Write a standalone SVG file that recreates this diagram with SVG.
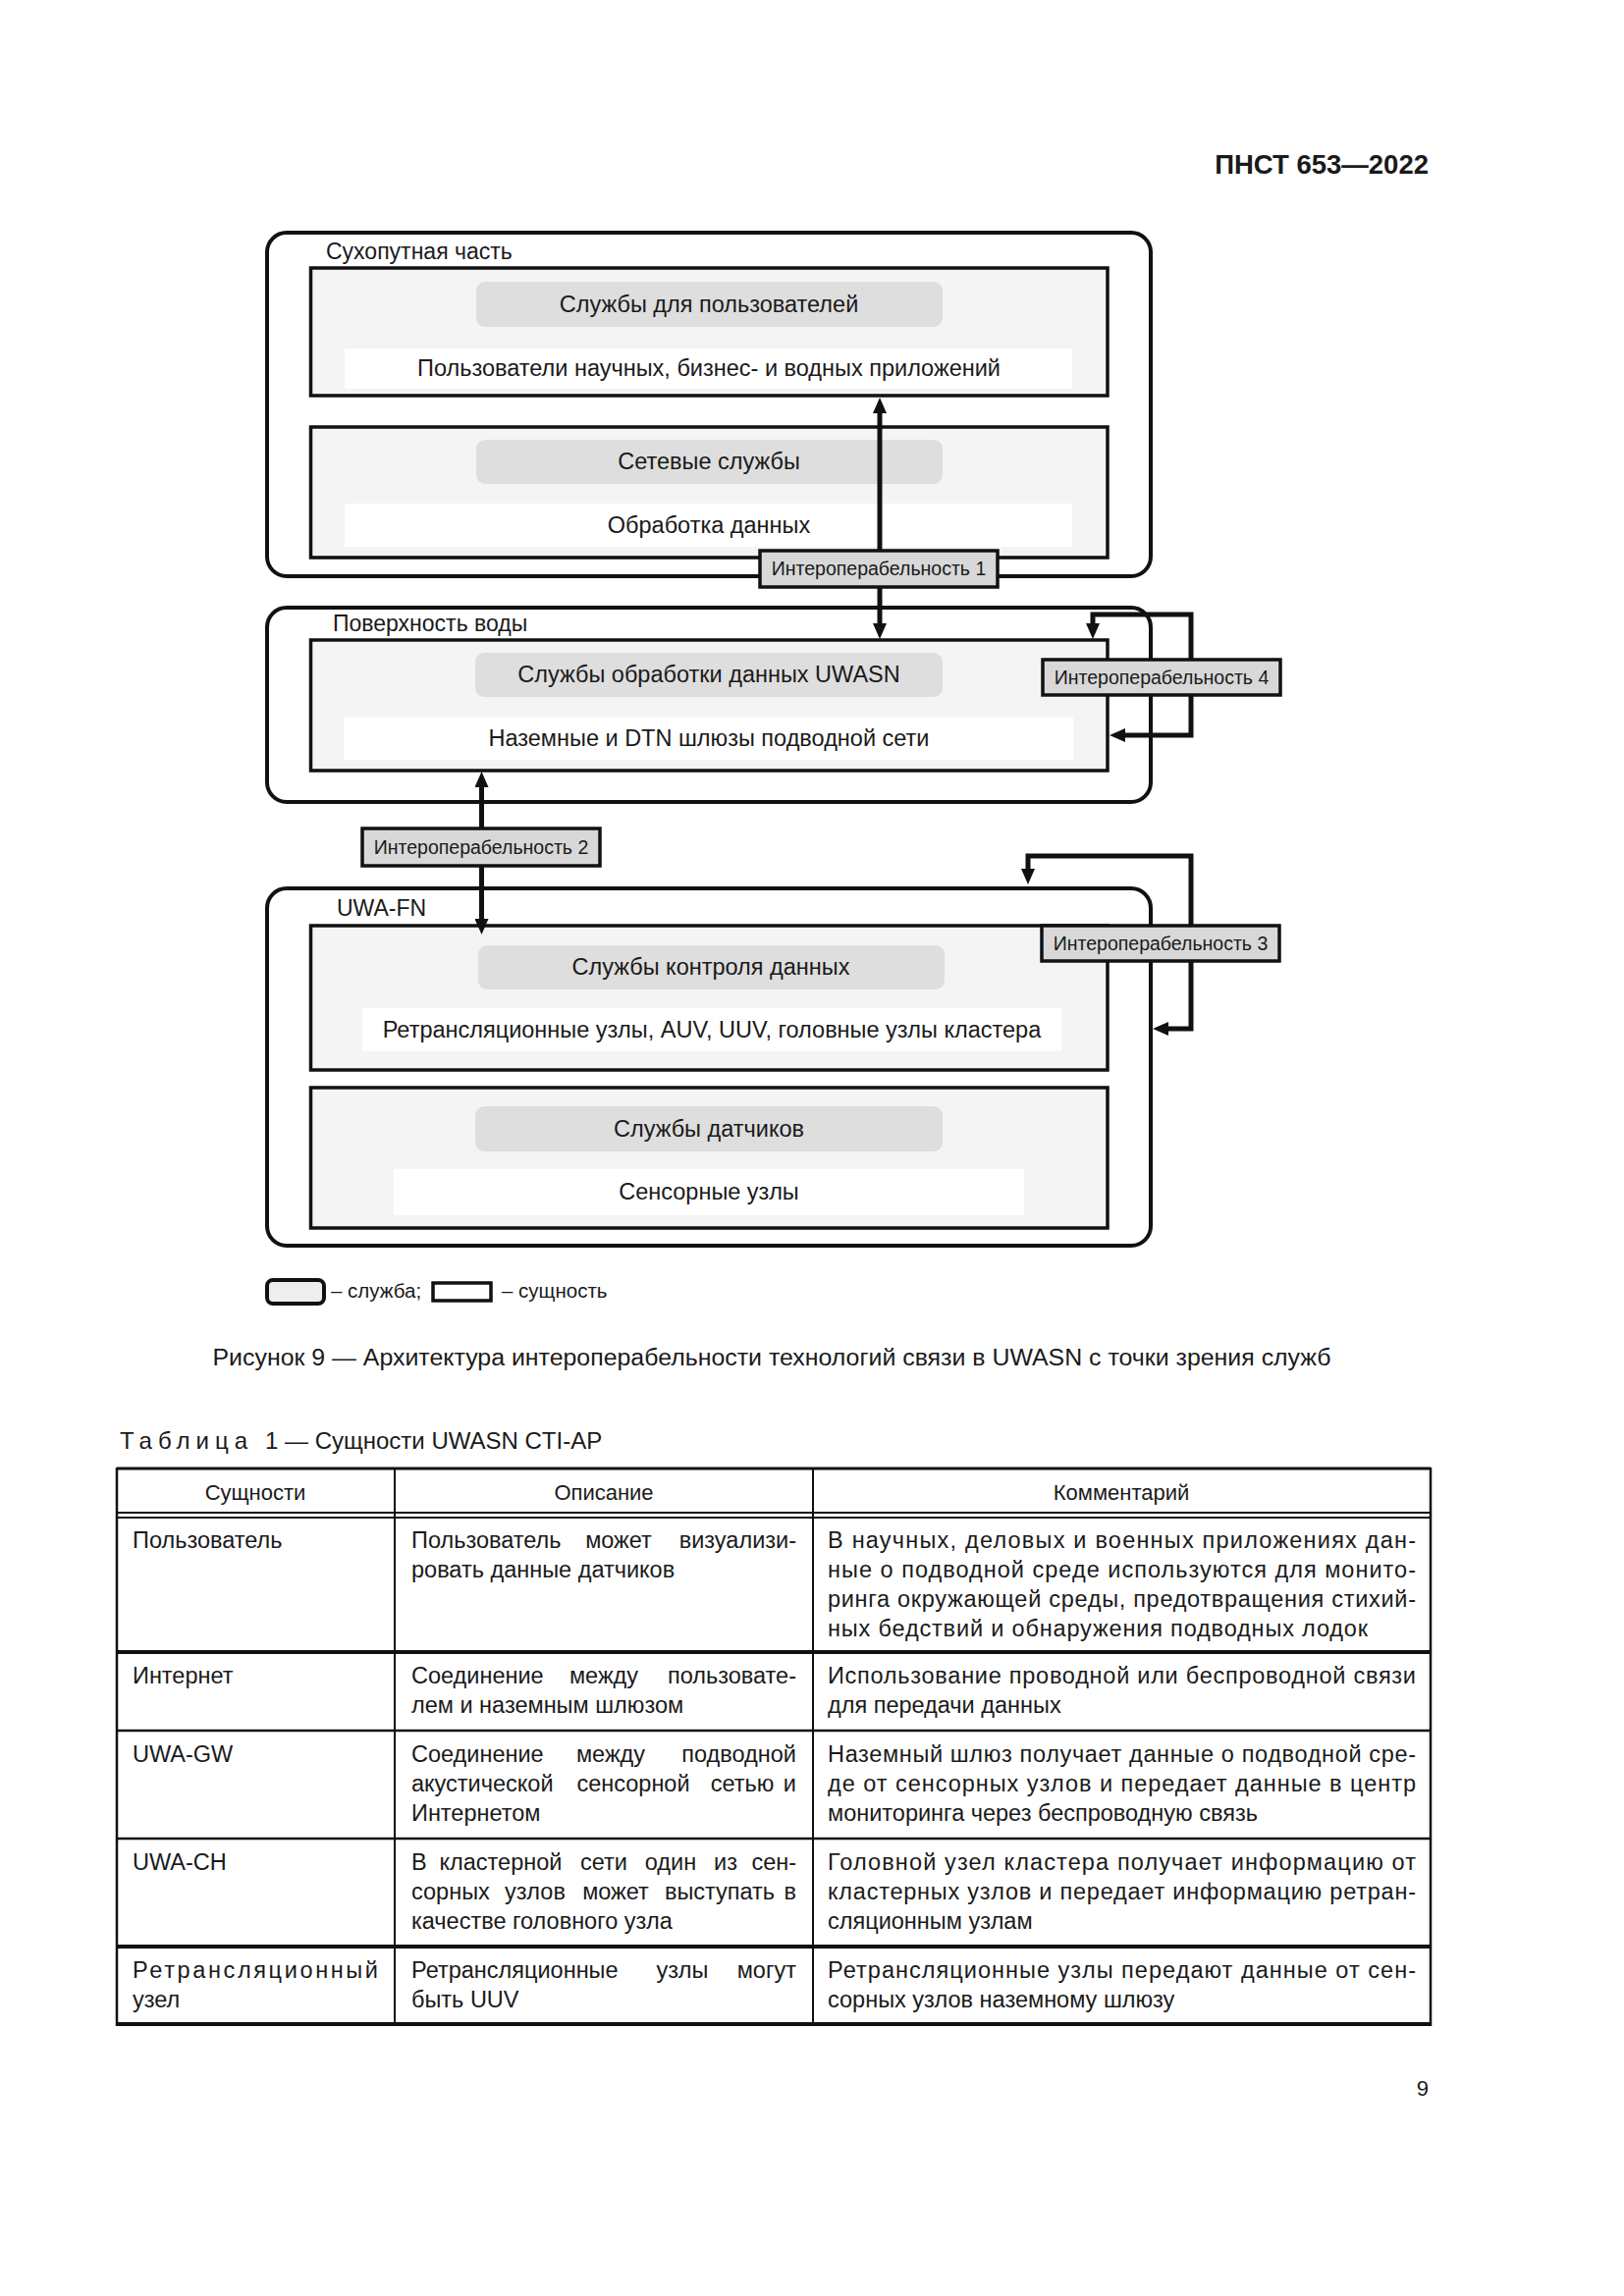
<svg xmlns="http://www.w3.org/2000/svg" width="1654" height="2339" viewBox="0 0 1654 2339">
<defs>
<style>
text{font-family:"Liberation Sans",Arial,"DejaVu Sans",sans-serif;fill:#1a1a1a}
.outer{fill:#fff;stroke:#111;stroke-width:4}
.ent{fill:#f4f4f4;stroke:#111;stroke-width:3.5}
.pill{fill:#dedede}
.band{fill:#fff}
.t{font-size:23.5px;text-anchor:middle}
.lbl{font-size:23px}
.iop{fill:#d8d8d8;stroke:#111;stroke-width:3.5}
.it{font-size:19.5px;text-anchor:middle}
.con{fill:none;stroke:#111;stroke-width:5;stroke-linejoin:miter}
.tb{font-size:23.5px}
.e{text-anchor:end}
.m{text-anchor:middle}
.th{font-size:22px;text-anchor:middle}
.tl{stroke:#111;fill:none}
</style>
<marker id="ah" viewBox="0 0 16 14" refX="8" refY="7" markerWidth="16" markerHeight="14" markerUnits="userSpaceOnUse" orient="auto-start-reverse">
<path d="M0,0 L16,7 L0,14 z" fill="#111"/>
</marker>
</defs>
<rect width="1654" height="2339" fill="#fff"/>

<text x="1455" y="177" style="font-size:27.5px;font-weight:bold;text-anchor:end">ПНСТ 653—2022</text>

<g id="land">
<rect class="outer" x="272" y="237" width="900" height="350" rx="20"/>
<text class="lbl" x="332" y="264">Сухопутная часть</text>
<g id="users">
<rect class="ent" x="316.5" y="273" width="811.5" height="130"/>
<rect class="pill" x="485" y="287" width="475" height="46" rx="9"/>
<rect class="band" x="351" y="355" width="741" height="41"/>
<text class="t" x="722" y="318">Службы для пользователей</text>
<text class="t" x="722" y="383">Пользователи научных, бизнес- и водных приложений</text>
</g>
<g id="network">
<rect class="ent" x="316.5" y="435" width="811.5" height="133"/>
<rect class="pill" x="485" y="448" width="475" height="45" rx="9"/>
<rect class="band" x="351" y="513" width="741" height="44"/>
<text class="t" x="722" y="478">Сетевые службы</text>
<text class="t" x="722" y="543">Обработка данных</text>
</g>
</g>

<g id="surface">
<rect class="outer" x="272" y="619" width="900" height="198" rx="20"/>
<text class="lbl" x="339" y="643">Поверхность воды</text>
<g id="gateways">
<rect class="ent" x="316.5" y="652" width="811.5" height="133"/>
<rect class="pill" x="484" y="665" width="476" height="45" rx="9"/>
<rect class="band" x="350" y="731" width="743" height="43"/>
<text class="t" x="722" y="695">Службы обработки данных UWASN</text>
<text class="t" x="722" y="760">Наземные и DTN шлюзы подводной сети</text>
</g>
</g>

<g id="uwafn">
<rect class="outer" x="272" y="905" width="900" height="364" rx="20"/>
<text class="lbl" x="343" y="933">UWA-FN</text>
<g id="relays">
<rect class="ent" x="316.5" y="943" width="811.5" height="147"/>
<rect class="pill" x="487" y="963" width="475" height="45" rx="9"/>
<rect class="band" x="369" y="1027" width="712" height="44"/>
<text class="t" x="724" y="993">Службы контроля данных</text>
<text class="t" x="725" y="1057">Ретрансляционные узлы, AUV, UUV, головные узлы кластера</text>
</g>
<g id="sensors">
<rect class="ent" x="316.5" y="1108" width="811.5" height="143"/>
<rect class="pill" x="484" y="1127" width="476" height="46" rx="9"/>
<rect class="band" x="401" y="1191" width="642" height="47"/>
<text class="t" x="722" y="1158">Службы датчиков</text>
<text class="t" x="722" y="1222">Сенсорные узлы</text>
</g>
</g>

<g id="connectors">
<path class="con" d="M896,413 L896,643" marker-start="url(#ah)" marker-end="url(#ah)"/>
<path class="con" d="M490.5,794 L490.5,944" marker-start="url(#ah)" marker-end="url(#ah)"/>
<path class="con" d="M1113,643 L1113,626 L1213,626 L1213,749 L1138,749" marker-start="url(#ah)" marker-end="url(#ah)"/>
<path class="con" d="M1047,893 L1047,872 L1213,872 L1213,1048 L1182,1048" marker-start="url(#ah)" marker-end="url(#ah)"/>
</g>

<g id="interop1">
<rect class="iop" x="774" y="561" width="242" height="37"/>
<text class="it" x="895" y="586">Интероперабельность 1</text>
</g>
<g id="interop2">
<rect class="iop" x="369" y="844" width="242" height="38"/>
<text class="it" x="490" y="870">Интероперабельность 2</text>
</g>
<g id="interop3">
<rect class="iop" x="1061" y="943" width="242" height="36"/>
<text class="it" x="1182" y="968">Интероперабельность 3</text>
</g>
<g id="interop4">
<rect class="iop" x="1062" y="672" width="242" height="36"/>
<text class="it" x="1183" y="697">Интероперабельность 4</text>
</g>

<g id="legend">
<rect x="272" y="1304" width="58" height="24" rx="6" fill="#eee" stroke="#111" stroke-width="4"/>
<text x="337" y="1322" style="font-size:20.5px">– служба;</text>
<rect x="441" y="1307" width="59" height="18" fill="#fff" stroke="#111" stroke-width="3.5"/>
<text x="511" y="1322" style="font-size:20.5px">– сущность</text>
</g>

<text x="786" y="1391" style="font-size:23px;text-anchor:middle" textLength="1139" lengthAdjust="spacingAndGlyphs">Рисунок 9 — Архитектура интероперабельности технологий связи в UWASN с точки зрения служб</text>

<text x="122" y="1476" style="font-size:24px"><tspan letter-spacing="6">Таблица</tspan><tspan x="270">1 — Сущности UWASN CTI-AP</tspan></text>

<g id="table">
<line class="tl" x1="119" y1="1496" x2="1457" y2="1496" stroke-width="3"/>
<line class="tl" x1="119" y1="1541" x2="1457" y2="1541" stroke-width="1.8"/>
<line class="tl" x1="119" y1="1546" x2="1457" y2="1546" stroke-width="1.8"/>
<line class="tl" x1="119" y1="1683" x2="1457" y2="1683" stroke-width="4"/>
<line class="tl" x1="119" y1="1763" x2="1457" y2="1763" stroke-width="2.5"/>
<line class="tl" x1="119" y1="1873" x2="1457" y2="1873" stroke-width="2.5"/>
<line class="tl" x1="119" y1="1983" x2="1457" y2="1983" stroke-width="4"/>
<line class="tl" x1="119" y1="2062" x2="1457" y2="2062" stroke-width="4"/>
<line class="tl" x1="119" y1="1495" x2="119" y2="2064" stroke-width="2.5"/>
<line class="tl" x1="402" y1="1495" x2="402" y2="2064" stroke-width="2"/>
<line class="tl" x1="828" y1="1495" x2="828" y2="2064" stroke-width="2"/>
<line class="tl" x1="1457" y1="1495" x2="1457" y2="2064" stroke-width="2.5"/>

<text class="th" x="260" y="1528">Сущности</text>
<text class="th" x="615" y="1528">Описание</text>
<text class="th" x="1142" y="1528">Комментарий</text>

<text class="tb" x="135" y="1577">Пользователь</text>
<text class="tb" x="419" y="1577">Пользователь</text>
<text class="tb m" x="630" y="1577">может</text>
<text class="tb e" x="811" y="1577">визуализи-</text>
<text class="tb" x="419" y="1607">ровать данные датчиков</text>
<text class="tb" x="843" y="1577" textLength="599" lengthAdjust="spacing">В научных, деловых и военных приложениях дан-</text>
<text class="tb" x="843" y="1607" textLength="599" lengthAdjust="spacing">ные о подводной среде используются для монито-</text>
<text class="tb" x="843" y="1637" textLength="599" lengthAdjust="spacing">ринга окружающей среды, предотвращения стихий-</text>
<text class="tb" x="843" y="1667" textLength="550" lengthAdjust="spacing">ных бедствий и обнаружения подводных лодок</text>

<text class="tb" x="135" y="1715">Интернет</text>
<text class="tb" x="419" y="1715">Соединение</text>
<text class="tb m" x="615" y="1715">между</text>
<text class="tb e" x="811" y="1715">пользовате-</text>
<text class="tb" x="419" y="1745">лем и наземным шлюзом</text>
<text class="tb" x="843" y="1715" textLength="599" lengthAdjust="spacing">Использование проводной или беспроводной связи</text>
<text class="tb" x="843" y="1745">для передачи данных</text>

<text class="tb" x="135" y="1795">UWA-GW</text>
<text class="tb" x="419" y="1795">Соединение</text>
<text class="tb m" x="622" y="1795">между</text>
<text class="tb e" x="811" y="1795">подводной</text>
<text class="tb" x="419" y="1825">акустической</text>
<text class="tb m" x="645" y="1825">сенсорной</text>
<text class="tb m" x="756" y="1825">сетью</text>
<text class="tb e" x="811" y="1825">и</text>
<text class="tb" x="419" y="1855">Интернетом</text>
<text class="tb" x="843" y="1795" textLength="599" lengthAdjust="spacing">Наземный шлюз получает данные о подводной сре-</text>
<text class="tb" x="843" y="1825" textLength="599" lengthAdjust="spacing">де от сенсорных узлов и передает данные в центр</text>
<text class="tb" x="843" y="1855">мониторинга через беспроводную связь</text>

<text class="tb" x="135" y="1905">UWA-CH</text>
<text class="tb" x="419" y="1905">В</text>
<text class="tb m" x="510" y="1905">кластерной</text>
<text class="tb m" x="615" y="1905">сети</text>
<text class="tb m" x="683" y="1905">один</text>
<text class="tb m" x="739" y="1905">из</text>
<text class="tb e" x="811" y="1905">сен-</text>
<text class="tb" x="419" y="1935">сорных</text>
<text class="tb m" x="545" y="1935">узлов</text>
<text class="tb m" x="627" y="1935">может</text>
<text class="tb m" x="733" y="1935">выступать</text>
<text class="tb e" x="811" y="1935">в</text>
<text class="tb" x="419" y="1965">качестве головного узла</text>
<text class="tb" x="843" y="1905" textLength="599" lengthAdjust="spacing">Головной узел кластера получает информацию от</text>
<text class="tb" x="843" y="1935" textLength="599" lengthAdjust="spacing">кластерных узлов и передает информацию ретран-</text>
<text class="tb" x="843" y="1965">сляционным узлам</text>

<text class="tb" x="135" y="2015" textLength="250" lengthAdjust="spacing">Ретрансляционный</text>
<text class="tb" x="135" y="2045">узел</text>
<text class="tb" x="419" y="2015">Ретрансляционные</text>
<text class="tb m" x="695" y="2015">узлы</text>
<text class="tb e" x="811" y="2015">могут</text>
<text class="tb" x="419" y="2045">быть UUV</text>
<text class="tb" x="843" y="2015" textLength="599" lengthAdjust="spacing">Ретрансляционные узлы передают данные от сен-</text>
<text class="tb" x="843" y="2045">сорных узлов наземному шлюзу</text>
</g>

<text x="1455" y="2135" style="font-size:22px;text-anchor:end">9</text>
</svg>
